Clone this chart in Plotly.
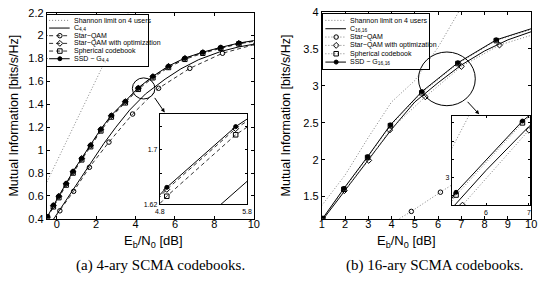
import plotly.graph_objects as go

# ---------------- data: (a) 4-ary ----------------
a_shannon_x = [-0.5, 0.0, 0.5, 1.0, 1.5, 2.0, 2.5, 3.0, 3.5, 4.0]
a_shannon_y = [0.72, 0.90, 1.08, 1.26, 1.44, 1.61, 1.79, 1.97, 2.15, 2.33]
a_c_x = [-0.3, 0.3, 0.7, 1.2, 1.7, 2.4, 3.0, 3.7, 4.5, 5.5, 6.3, 7.2, 8.3, 9.2, 10.0]
a_c_y = [0.36, 0.52, 0.625, 0.75, 0.88, 1.06, 1.2, 1.35, 1.49, 1.62, 1.71, 1.79, 1.86, 1.90, 1.925]
a_star_x = [-0.45, 0.16, 0.86, 1.66, 2.65, 3.85, 5.17, 6.75, 8.41, 10.1]
a_star_y = [0.33, 0.47, 0.64, 0.85, 1.07, 1.315, 1.54, 1.714, 1.846, 1.925]
a_ssd_x = [-0.47, -0.17, 0.11, 0.48, 0.83, 1.27, 1.72, 2.24, 2.77, 3.48, 4.14, 4.88, 5.67, 6.50, 7.41, 8.32, 9.24, 10.2]
a_ssd_y = [0.42, 0.52, 0.60, 0.71, 0.815, 0.93, 1.045, 1.184, 1.304, 1.427, 1.544, 1.645, 1.734, 1.804, 1.855, 1.897, 1.935, 1.962]
a_opt_y = [0.415, 0.515, 0.596, 0.706, 0.811, 0.926, 1.041, 1.18, 1.30, 1.423, 1.541, 1.642, 1.731, 1.801, 1.852, 1.894, 1.932, 1.959]
a_sph_y = [0.41, 0.505, 0.585, 0.695, 0.80, 0.915, 1.03, 1.168, 1.289, 1.413, 1.531, 1.632, 1.722, 1.793, 1.846, 1.889, 1.928, 1.956]

# ---------------- data: (b) 16-ary ----------------
b_shannon_x = [0.5, 1.0, 2.0, 3.0, 4.0, 5.0, 6.0, 7.0]
b_shannon_y = [1.19, 1.38, 1.79, 2.30, 2.78, 3.07, 3.52, 4.06]
b_c_x = [1.0, 2.0, 3.0, 4.0, 5.0, 6.0, 7.0, 8.0, 9.0, 10.0]
b_c_y = [1.17, 1.58, 2.0, 2.41, 2.78, 3.04, 3.28, 3.47, 3.62, 3.73]
b_star_x = [3.9, 4.85, 6.1, 7.4, 8.8, 10.3]
b_star_y = [1.12, 1.30, 1.56, 1.82, 2.08, 2.33]
b_opt_x = [1.97, 3.02, 3.92, 5.45, 7.0, 8.64, 10.3]
b_opt_y = [1.58, 1.99, 2.40, 2.85, 3.26, 3.55, 3.71]
b_ssd_x = [1.05, 1.95, 2.97, 3.95, 5.3, 6.85, 8.5, 10.3]
b_ssd_y = [1.21, 1.61, 2.04, 2.47, 2.92, 3.31, 3.62, 3.80]
b_sph_y = [1.20, 1.60, 2.03, 2.46, 2.905, 3.30, 3.61, 3.79]

# tick labels / texts
a_xticks = [0, 2, 4, 6, 8, 10]
b_xticks = [1, 2, 3, 4, 5, 6, 7, 8, 9, 10]
names_a = ["Shannon limit on 4 users", "C<sub>4,4</sub>", "Star\u2212QAM",
           "Star\u2212QAM with optimization", "Spherical codebook", "SSD \u2212 G<sub>4,4</sub>"]
names_b = ["Shannon limit on 4 users", "C<sub>16,16</sub>", "Star\u2212QAM",
           "Star\u2212QAM with optimization", "Spherical codebook", "SSD \u2212 G<sub>16,16</sub>"]
cap_a = "(a) 4-ary SCMA codebooks."
cap_b = "(b) 16-ary SCMA codebooks."
xtitle = "E<sub>b</sub>/N<sub>0</sub> [dB]"
ytitle = "Mutual Information [bits/s/Hz]"

W, H = 544, 290
def PX(p): return p / W
def PY(p): return 1 - p / H

DASH = "4px,3px"
DOT = "1px,2px"
GRAY = "#808080"

# style per series: (dash, color, symbol)
sty_a = [(DOT, GRAY, None), ("solid", "black", None), (DASH, "#333", "circle-open"),
         (DASH, "#333", "diamond-open"), (DASH, "#333", "square-open"), ("solid", "black", "circle")]
sty_b = [(DOT, GRAY, None), ("solid", "black", None), (DOT, GRAY, "circle-open"),
         (DOT, GRAY, "diamond-open"), (DOT, GRAY, "square-open"), ("solid", "black", "circle")]

fig = go.Figure()

def msz(sym):
    return 4 if sym == "circle" else 4.5

def add(x, y, st, xa, ya):
    dash, col, sym = st
    mode = "lines+markers" if sym else "lines"
    fig.add_trace(go.Scatter(
        x=x, y=y, mode=mode, xaxis=xa, yaxis=ya, showlegend=False, hoverinfo="skip",
        line=dict(color=col, width=1, dash=dash),
        marker=dict(symbol=sym or "circle", size=msz(sym), color="black",
                    line=dict(color="black", width=1))))

series_a = [(a_shannon_x, a_shannon_y), (a_c_x, a_c_y), (a_star_x, a_star_y),
            (a_ssd_x, a_opt_y), (a_ssd_x, a_sph_y), (a_ssd_x, a_ssd_y)]
series_b = [(b_shannon_x, b_shannon_y), (b_c_x, b_c_y), (b_star_x, b_star_y),
            (b_opt_x, b_opt_y), (b_ssd_x, b_sph_y), (b_ssd_x, b_ssd_y)]

for (x, y), st in zip(series_a, sty_a):
    add(x, y, st, "x", "y")
for (x, y), st in zip(series_b, sty_b):
    add(x, y, st, "x2", "y2")
for (x, y), st in zip(series_a, sty_a):
    add(x, y, st, "x3", "y3")
for (x, y), st in zip(series_b, sty_b):
    add(x, y, st, "x4", "y4")

# ---- manual legends (drawn in their own small boxes) ----
annotations = []
def legend(names, styles, xa, ya, x0, x1, xm, xt, row0, step):
    for i, (nm, st) in enumerate(zip(names, styles)):
        r = row0 + i * step
        dash, col, sym = st
        fig.add_trace(go.Scatter(x=[x0, x1], y=[r, r], mode="lines", xaxis=xa, yaxis=ya,
                                 showlegend=False, hoverinfo="skip",
                                 line=dict(color=col, width=1, dash=dash)))
        if sym:
            fig.add_trace(go.Scatter(x=[xm], y=[r], mode="markers", xaxis=xa, yaxis=ya,
                                     showlegend=False, hoverinfo="skip",
                                     marker=dict(symbol=sym, size=msz(sym), color="black",
                                                 line=dict(color="black", width=1))))
        annotations.append(dict(x=xt, y=r, xref=xa, yref=ya, text=nm, showarrow=False,
                                xanchor="left", yanchor="middle",
                                font=dict(family="Arial", size=7, color="black")))

legend(names_a, sty_a, "x5", "y5", 45, 66, 56, 68, 15, 8)
legend(names_b, sty_b, "x6", "y6", 327, 348, 338, 350, 15, 8.7)

ax = dict(showline=True, linecolor="black", linewidth=1, mirror="allticks", ticks="inside",
          ticklen=3, tickcolor="black", showgrid=False, zeroline=False,
          tickfont=dict(family="Arial", size=11, color="black"))
axs = dict(ax, tickfont=dict(family="Arial", size=7, color="black"), ticklen=2)
axl = dict(showline=True, linecolor="black", linewidth=1, mirror=True, ticks="",
           showticklabels=False, showgrid=False, zeroline=False)
minor = lambda vals: dict(tickvals=vals, ticks="inside", ticklen=2, tickcolor="black", showgrid=False)

layout = dict(
    width=W, height=H, margin=dict(l=0, r=0, t=0, b=0),
    paper_bgcolor="white", plot_bgcolor="white", showlegend=False,
    xaxis=dict(ax, domain=[PX(42.7), PX(254)], range=[-0.5, 10], tickvals=a_xticks, anchor="y",
               ticklabelstandoff=-5),
    yaxis=dict(ax, domain=[PY(222), PY(7)], range=[0.4, 2.2], dtick=0.2, tick0=0.4, anchor="x"),
    xaxis2=dict(ax, domain=[PX(323.3), PX(537)], range=[1, 10], tickvals=b_xticks, anchor="y2",
                ticklabelstandoff=-5),
    yaxis2=dict(ax, domain=[PY(222), PY(6)], range=[1.2, 4], dtick=0.5, tick0=1.5, anchor="x2"),
    xaxis3=dict(axs, domain=[PX(158), PX(247)], range=[4.8, 5.8], tickvals=[4.8, 5.8], anchor="y3"),
    yaxis3=dict(axs, domain=[PY(207), PY(113)], range=[1.62, 1.752],
                tickvals=[1.62, 1.7], minor=minor([1.666, 1.734]), anchor="x3"),
    xaxis4=dict(axs, domain=[PX(456), PX(536)], range=[5.2, 7.03], tickvals=[6, 7], anchor="y4"),
    yaxis4=dict(axs, domain=[PY(207.7), PY(114.3)], range=[2.85, 3.34],
                tickvals=[3.0], minor=minor([2.9, 3.1, 3.2, 3.3]), anchor="x4"),
    xaxis5=dict(axl, domain=[PX(43.3), PX(146)], range=[43.3, 146], anchor="y5"),
    yaxis5=dict(axl, domain=[PY(63), PY(9)], range=[63, 9], anchor="x5"),
    xaxis6=dict(axl, domain=[PX(324.5), PX(433)], range=[324.5, 433], anchor="y6"),
    yaxis6=dict(axl, domain=[PY(66), PY(8)], range=[66, 8], anchor="x6"),
)

def txt(x, y, s, size, fam="Arial", angle=0):
    annotations.append(dict(x=PX(x), y=PY(y), xref="paper", yref="paper", text=s,
                            showarrow=False, xanchor="center", yanchor="middle",
                            textangle=angle, font=dict(family=fam, size=size, color="black")))

txt(152, 246, xtitle, 13)
txt(410, 246, xtitle, 13)
txt(9, 114.5, ytitle, 12.5, angle=-90)
txt(287, 114, ytitle, 12.5, angle=-90)
txt(159, 271, cap_a, 15, fam="Liberation Serif")
txt(438, 271, cap_b, 15, fam="Liberation Serif")

# arrows from the magnified region to the inset
for tip, tail in [((163, 111), (152, 95)), ((484, 113), (471, 99))]:
    annotations.append(dict(x=PX(tip[0]), y=PY(tip[1]), xref="paper", yref="paper", text="",
                            showarrow=True, ax=tail[0] - tip[0], ay=tail[1] - tip[1],
                            arrowhead=2, arrowsize=0.8, arrowwidth=1, arrowcolor="black"))

shapes = [
    dict(type="circle", xref="paper", yref="paper", x0=PX(130), x1=PX(153), y0=PY(97), y1=PY(75),
         line=dict(color="black", width=1)),
    dict(type="circle", xref="paper", yref="paper", x0=PX(422), x1=PX(480), y0=PY(104), y1=PY(48),
         line=dict(color="black", width=1)),
]

fig.update_layout(**layout, annotations=annotations, shapes=shapes)
fig.write_html(
    "out.html",
    config={"displayModeBar": False, "responsive": False},
    post_script="var d=document.getElementById('{plot_id}');"
                "d.style.position='absolute';d.style.left='0px';d.style.top='0px';",
)
